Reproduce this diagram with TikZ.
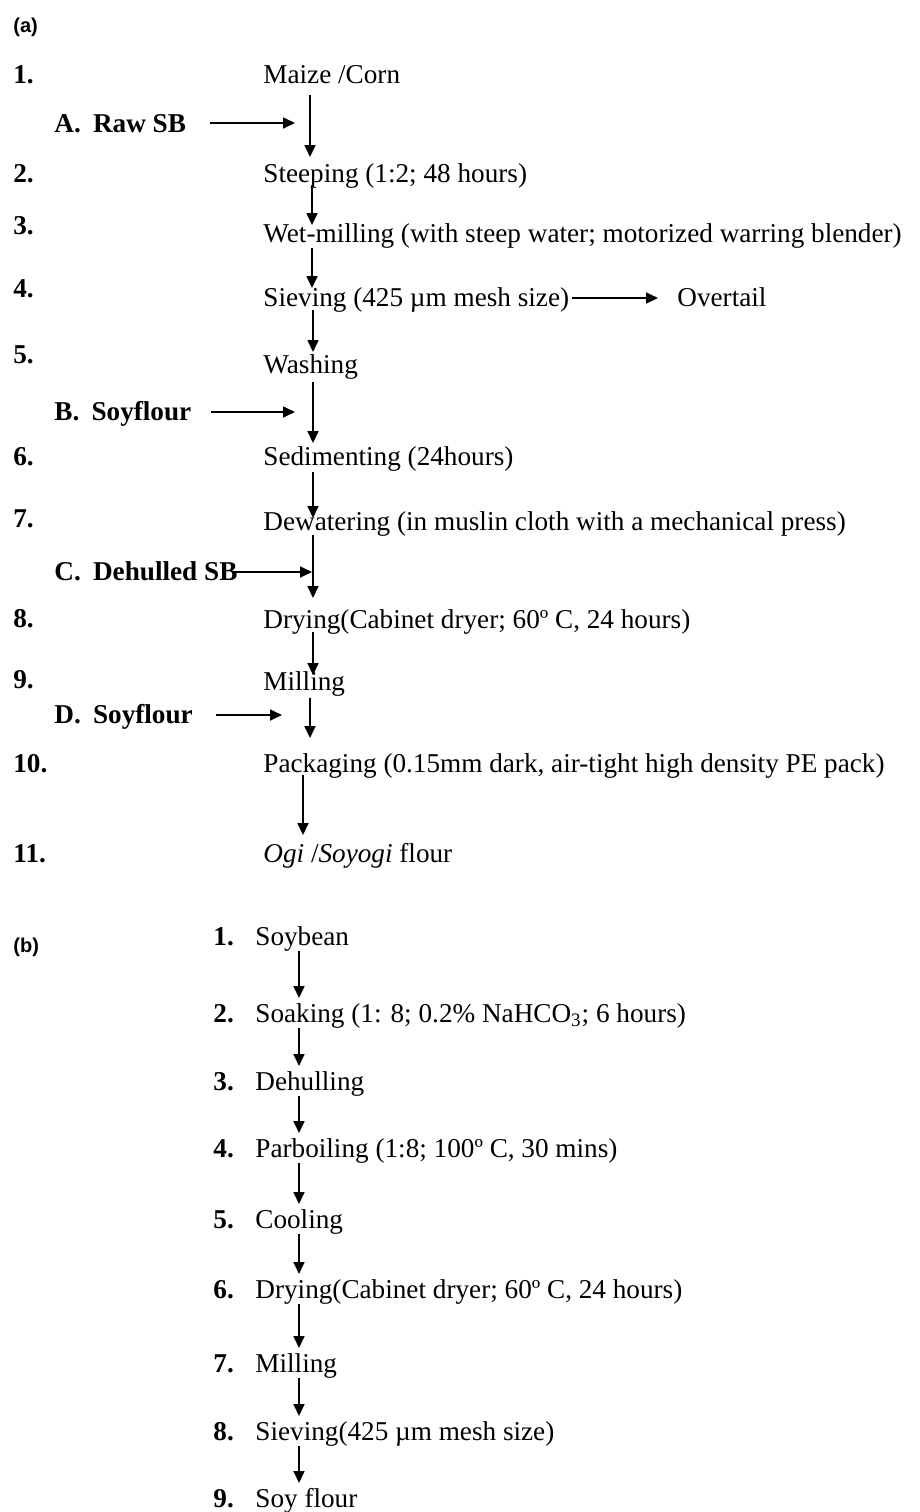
\documentclass[tikz,border=0pt]{standalone}
\usepackage{fontspec}
\setmainfont{Liberation Serif}
\newfontfamily\partfont{Liberation Sans}
\usetikzlibrary{arrows.meta, positioning, calc}
\tikzset{
    flow/.style={-{Triangle[length=6pt, width=5.5pt]}, line width=0.85pt},
    stepno/.style={anchor=base west, inner sep=0pt, font=\bfseries\fontsize{13.6}{16}\selectfont},
    steptxt/.style={anchor=base west, inner sep=0pt, font=\fontsize{13.6}{16}\selectfont},
    addlbl/.style={anchor=base west, inner sep=0pt, font=\bfseries\fontsize{13.6}{16}\selectfont},
    partlbl/.style={anchor=base west, inner sep=0pt, font=\partfont\bfseries\fontsize{10}{12}\selectfont}
}

\begin{document}
\begin{tikzpicture}[x=0.5pt, y=-0.5pt]
    \useasboundingbox (0,0) rectangle (920,1512);

    % (a) Ogi / Soyogi flour
    \node[partlbl] (pa) at (13,32) {(a)};
    \foreach \n/\y in {1/83, 2/182, 3/234, 4/297, 5/363, 6/465, 7/527, 8/627, 9/688, 10/772, 11/862}
        \node[stepno] (na\n) at (13,\y) {\n.};

    \node[steptxt] (a1)  at (263,83)  {Maize /Corn};
    \node[steptxt] (a2)  at (263,182) {Steeping (1:2; 48 hours)};
    \node[steptxt] (a3)  at (263,242) {Wet-milling (with steep water; motorized warring blender)};
    \node[steptxt] (a4)  at (263,306) {Sieving (425 µm mesh size)};
    \node[steptxt] (a5)  at (263,373) {Washing};
    \node[steptxt] (a6)  at (263,465) {Sedimenting (24hours)};
    \node[steptxt] (a7)  at (263,530) {Dewatering (in muslin cloth with a mechanical press)};
    \node[steptxt] (a8)  at (263,628) {Drying(Cabinet dryer; 60º C, 24 hours)};
    \node[steptxt] (a9)  at (263,690) {Milling};
    \node[steptxt] (a10) at (263,772) {Packaging (0.15mm dark, air-tight high density PE pack)};
    \node[steptxt] (a11) at (263,862) {\textit{Ogi} /\textit{Soyogi} flour};
    \node[steptxt] (ov)  at (677,306) {Overtail};

    % soybean additions
    \node[addlbl] (sA) at (54,132) {A.\hspace{0.45em}Raw SB};
    \node[addlbl] (sB) at (54,420) {B.\hspace{0.45em}Soyflour};
    \node[addlbl] (sC) at (54,580) {C.\hspace{0.45em}Dehulled SB};
    \node[addlbl] (sD) at (54,723) {D.\hspace{0.45em}Soyflour};
    \coordinate (inA) at (295,123);
    \coordinate (inB) at (295,412);
    \coordinate (inC) at (312,572);
    \coordinate (inD) at (282,715);

    % main line
    \foreach \s/\t/\dx/\ys/\ye in {1/2/47/12/25, 2/3/49/3/17, 3/4/49/6/18, 4/5/50/4/21, 5/6/50/9/22,
                                  6/7/50/7/12, 7/8/50/5/30, 8/9/50/4/15, 9/10/47/8/34, 10/11/40/3/27}
        \draw[flow] ([shift={(\dx,\ys)}]a\s.base west) -- ([shift={(\dx,-\ye)}]a\t.base west);

    \draw[flow] ([shift={(24,-9)}]sA.base east) -- (inA);
    \draw[flow] ([shift={(19,-8)}]sB.base east) -- (inB);
    \draw[flow] ([shift={(-4,-8)}]sC.base east) -- (inC);
    \draw[flow] ([shift={(23,-8)}]sD.base east) -- (inD);
    \draw[flow] ([shift={(2,-8)}]a4.base east) -- ([shift={(-19,-8)}]ov.base west);

    % (b) soy flour
    \node[partlbl] (pb) at (13,952) {(b)};
    \foreach \n/\y in {1/945, 2/1022, 3/1090, 4/1157, 5/1228, 6/1298, 7/1372, 8/1440, 9/1507}
        \node[stepno] (nb\n) at (213,\y) {\n.};

    \node[steptxt] (b1) at (255,945)  {Soybean};
    \node[steptxt] (b2) at (255,1022) {Soaking (1: 8; 0.2\% NaHCO\textsubscript{3}; 6 hours)};
    \node[steptxt] (b3) at (255,1090) {Dehulling};
    \node[steptxt] (b4) at (255,1157) {Parboiling (1:8; 100º C, 30 mins)};
    \node[steptxt] (b5) at (255,1228) {Cooling};
    \node[steptxt] (b6) at (255,1298) {Drying(Cabinet dryer; 60º C, 24 hours)};
    \node[steptxt] (b7) at (255,1372) {Milling};
    \node[steptxt] (b8) at (255,1440) {Sieving(425 µm mesh size)};
    \node[steptxt] (b9) at (255,1507) {Soy flour};

    \foreach \s/\t in {1/2, 2/3, 3/4, 4/5, 5/6, 6/7, 7/8, 8/9}
        \draw[flow] ([shift={(44,6)}]b\s.base west) -- ([shift={(44,-24)}]b\t.base west);
\end{tikzpicture}
\end{document}
